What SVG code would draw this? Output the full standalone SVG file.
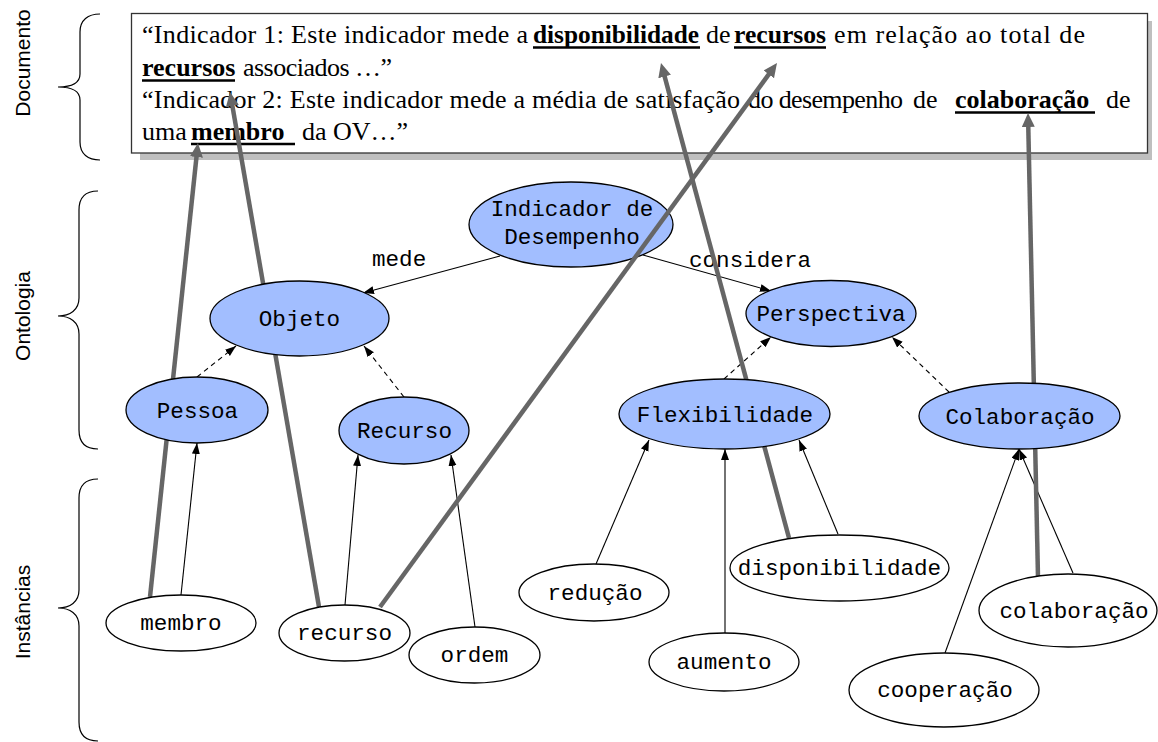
<svg xmlns="http://www.w3.org/2000/svg" width="1158" height="742" viewBox="0 0 1158 742">
<style>
.doc{font-family:"Liberation Serif","Times New Roman",serif;font-size:26px;fill:#000}
.b{font-weight:bold}
.ul{stroke:#000;stroke-width:2.5}
.lbl{font-family:"Liberation Sans",Arial,sans-serif;font-size:21px;fill:#000;text-anchor:middle}
.brace{fill:none;stroke:#000;stroke-width:1.2}
.cls{fill:#A2BEFF;stroke:#000;stroke-width:1.3}
.ins{fill:#fff;stroke:#000;stroke-width:1.3}
.t{font-family:"Liberation Mono","Courier New",monospace;font-size:22.6px;fill:#000;text-anchor:middle}
.e{font-family:"Liberation Mono","Courier New",monospace;font-size:22.6px;fill:#000}
.thin{stroke:#000;stroke-width:1.1;fill:none;marker-end:url(#ah)}
.dash{stroke:#000;stroke-width:1.1;fill:none;stroke-dasharray:5,4;marker-end:url(#ah)}
.thick{stroke:#666;stroke-width:4.5;fill:none;marker-end:url(#gh)}
</style>
<defs>
<marker id="ah" markerUnits="userSpaceOnUse" markerWidth="12" markerHeight="9" refX="11" refY="4" orient="auto"><path d="M0,0 L11,4 L0,8 z" fill="#000"/></marker>
<marker id="gh" markerUnits="userSpaceOnUse" markerWidth="16" markerHeight="14" refX="4" refY="6.5" orient="auto"><path d="M0,0 L14,6.5 L0,13 z" fill="#666"/></marker>
</defs>
<rect width="1158" height="742" fill="#fff"/>

<g id="labels">
<path class="brace" d="M100,14 C88,14 80,20 80,32 L80,74 C80,83 71,87 58,87 C71,87 80,91 80,100 L80,142 C80,154 88,160 100,160"/>
<path class="brace" d="M98,191 C86,191 79,197 79,210 L79,298 C79,310 70,316 58,316 C70,316 79,322 79,334 L79,430 C79,443 86,449 98,449"/>
<path class="brace" d="M98,479 C86,479 79,485 79,498 L79,590 C79,602 70,608 58,608 C70,608 79,614 79,626 L79,722 C79,735 86,741 98,741"/>
<text class="lbl" x="30" y="63" transform="rotate(-90 30 63)">Documento</text>
<text class="lbl" x="30" y="316" transform="rotate(-90 30 316)">Ontologia</text>
<text class="lbl" x="30" y="612" transform="rotate(-90 30 612)">Instâncias</text>
</g>

<g id="documento">
<rect x="140" y="21" width="1012" height="139" fill="#BFBFBF"/>
<rect x="131.5" y="13.5" width="1016" height="139.5" fill="#fff" stroke="#333" stroke-width="1.3"/>
<text class="doc" x="142" y="43" textLength="386" lengthAdjust="spacing">“Indicador 1: Este indicador mede a</text>
<text class="doc b" x="533" y="43" textLength="166" lengthAdjust="spacingAndGlyphs">disponibilidade</text>
<text class="doc" x="706" y="43">de</text>
<text class="doc b" x="734" y="43" textLength="92" lengthAdjust="spacingAndGlyphs">recursos</text>
<text class="doc" x="834" y="43" textLength="251" lengthAdjust="spacing">em relação ao total de</text>
<text class="doc b" x="142" y="76">recursos</text>
<text class="doc" x="243" y="76" textLength="149" lengthAdjust="spacing">associados …”</text>
<text class="doc" x="142" y="108" textLength="598" lengthAdjust="spacing">“Indicador 2: Este indicador mede a média de satisfação</text>
<text class="doc" x="748" y="108" textLength="155" lengthAdjust="spacing">do desempenho</text>
<text class="doc" x="913" y="108">de</text>
<text class="doc b" x="955" y="108">colaboração</text>
<text class="doc" x="1106" y="108">de</text>
<text class="doc" x="142" y="140">uma</text>
<text class="doc b" x="191" y="140">membro</text>
<text class="doc" x="302" y="140">da OV…”</text>
<line class="ul" x1="533" y1="47.5" x2="700" y2="47.5"/>
<line class="ul" x1="734" y1="47.5" x2="826" y2="47.5"/>
<line class="ul" x1="142" y1="80.5" x2="235" y2="80.5"/>
<line class="ul" x1="955" y1="112.5" x2="1095" y2="112.5"/>
<line class="ul" x1="191" y1="144" x2="295" y2="144"/>
</g>

<g id="n-indicador">
<ellipse class="cls" cx="571" cy="224.5" rx="102" ry="42.5"/>
<text class="t" x="572" y="216">Indicador de</text>
<text class="t" x="572" y="244">Desempenho</text>
</g>

<g id="connectors">
<line class="thin" x1="500" y1="256" x2="363" y2="293"/>
<line class="thin" x1="643" y1="255" x2="771" y2="291"/>
<text class="e" x="372" y="266">mede</text>
<text class="e" x="689" y="267">considera</text>
<line class="dash" x1="197" y1="377" x2="236" y2="346"/>
<line class="dash" x1="404" y1="397" x2="364" y2="346"/>
<line class="dash" x1="724" y1="379" x2="771" y2="337"/>
<line class="dash" x1="949" y1="392" x2="892" y2="337"/>
<line class="thin" x1="181" y1="595" x2="197" y2="443"/>
<line class="thin" x1="345" y1="605" x2="358" y2="455"/>
<line class="thin" x1="475" y1="627" x2="451" y2="455"/>
<line class="thin" x1="596" y1="564" x2="649" y2="440"/>
<line class="thin" x1="725" y1="633" x2="725" y2="449"/>
<line class="thin" x1="838" y1="534" x2="799" y2="440"/>
<line class="thin" x1="945" y1="653" x2="1019" y2="449"/>
<line class="thin" x1="1073" y1="573" x2="1019" y2="449"/>
<line class="thick" x1="150" y1="597" x2="196.9" y2="153"/>
<line class="thick" x1="319" y1="607" x2="231.7" y2="101.9"/>
<line class="thick" x1="380" y1="607" x2="771.1" y2="71.1"/>
<line class="thick" x1="789" y1="538" x2="663.6" y2="72.7"/>
<line class="thick" x1="1038" y1="577" x2="1028.2" y2="123"/>
</g>

<g id="n-objeto"><ellipse class="cls" cx="299.5" cy="318.5" rx="89.5" ry="37.5"/><text class="t" x="299.5" y="326">Objeto</text></g>
<g id="n-perspectiva"><ellipse class="cls" cx="831" cy="313.5" rx="85" ry="33"/><text class="t" x="831" y="321">Perspectiva</text></g>
<g id="n-pessoa"><ellipse class="cls" cx="197" cy="410" rx="71" ry="33"/><text class="t" x="197.5" y="417.5">Pessoa</text></g>
<g id="n-recurso"><ellipse class="cls" cx="404" cy="430.5" rx="65" ry="33.5"/><text class="t" x="404.5" y="438">Recurso</text></g>
<g id="n-flexibilidade"><ellipse class="cls" cx="724.5" cy="414" rx="105.5" ry="35"/><text class="t" x="725" y="421.5">Flexibilidade</text></g>
<g id="n-colaboracao"><ellipse class="cls" cx="1019.5" cy="416" rx="100.5" ry="33"/><text class="t" x="1020" y="423.5">Colaboração</text></g>

<g id="i-membro"><ellipse class="ins" cx="181" cy="623" rx="75" ry="28"/><text class="t" x="181" y="630">membro</text></g>
<g id="i-recurso"><ellipse class="ins" cx="344.5" cy="633" rx="65.5" ry="28"/><text class="t" x="344.5" y="640">recurso</text></g>
<g id="i-ordem"><ellipse class="ins" cx="474.5" cy="655" rx="65.5" ry="28"/><text class="t" x="474.5" y="662">ordem</text></g>
<g id="i-reducao"><ellipse class="ins" cx="594" cy="592.5" rx="75" ry="28.5"/><text class="t" x="595" y="599.5">redução</text></g>
<g id="i-aumento"><ellipse class="ins" cx="724" cy="662" rx="75" ry="29"/><text class="t" x="724" y="669">aumento</text></g>
<g id="i-disponibilidade"><ellipse class="ins" cx="839.5" cy="568" rx="109.5" ry="33"/><text class="t" x="839.5" y="575">disponibilidade</text></g>
<g id="i-cooperacao"><ellipse class="ins" cx="944" cy="690" rx="95" ry="37"/><text class="t" x="945" y="697">cooperação</text></g>
<g id="i-colaboracao"><ellipse class="ins" cx="1068" cy="610.5" rx="89" ry="36.5"/><text class="t" x="1074" y="617.5">colaboração</text></g>
</svg>
